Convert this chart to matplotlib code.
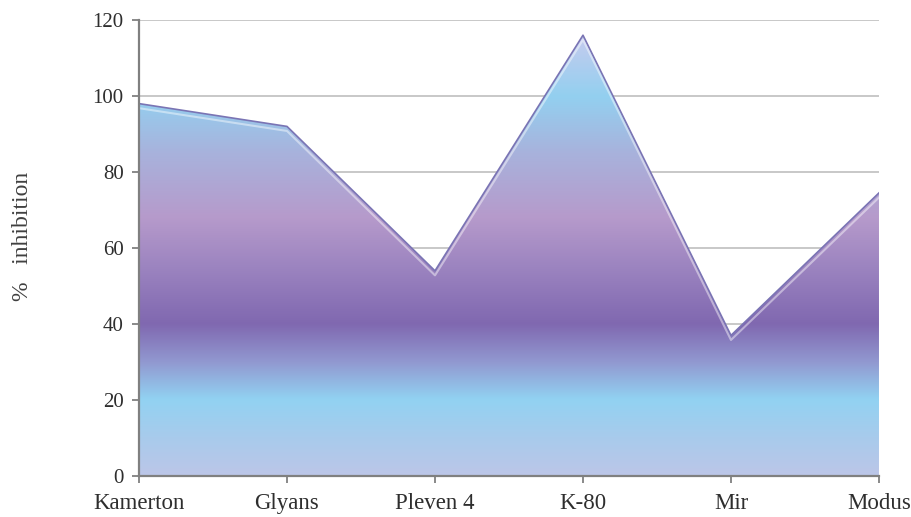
import numpy as np
import matplotlib.pyplot as plt
from matplotlib.colors import LinearSegmentedColormap

# varieties and % inhibition
varieties = ['Kamerton', 'Glyans', 'Pleven 4', 'K-80', 'Mir', 'Modus']
inhibition = [98, 92, 54, 116, 37, 74.5]
y_ticks = [0, 20, 40, 60, 80, 100, 120]

plt.rcParams['font.family'] = ['Liberation Serif', 'DejaVu Serif']

fig = plt.figure(figsize=(9.12, 5.17), dpi=100)
ax = fig.add_axes([0.1524, 0.0793, 0.8114, 0.882])

x = np.arange(len(varieties))
ax.set_xlim(0, len(varieties) - 1)
ax.set_ylim(0, 120)

# gridlines behind the area
ax.set_yticks(y_ticks)
ax.yaxis.grid(True, color='#c4c4c4', linewidth=1.3)
ax.set_axisbelow(True)

# vertical gradient, stops given in data units (0..116)
stops = [
    (0, '#bcc6e8'),
    (10, '#a8cbec'),
    (20, '#92d2f2'),
    (30, '#9198d0'),
    (40, '#8068b0'),
    (55, '#9c84c0'),
    (68, '#b69acb'),
    (85, '#a8b2dc'),
    (100, '#93d0f0'),
    (116, '#c6cbee'),
]
top = stops[-1][0]
cmap = LinearSegmentedColormap.from_list('band', [(v / top, c) for v, c in stops])

poly = ax.fill_between(x, 0, inhibition, facecolor='none', edgecolor='none')
grad = np.linspace(0, 1, 512).reshape(-1, 1)
img = ax.imshow(grad, cmap=cmap, origin='lower', aspect='auto',
                extent=[0, len(varieties) - 1, 0, top], zorder=2, interpolation='bicubic')
img.set_clip_path(poly.get_paths()[0], transform=ax.transData)

# thin bevel edge along the top
ax.plot(x, inhibition, color='#7a74b4', linewidth=1.2, zorder=3)
ax.plot(x, np.array(inhibition) - 1.2, color='white', linewidth=1.5, alpha=0.45, zorder=3)

ax.set_xticks(x)
ax.set_xticklabels(varieties, fontsize=16.5)
ax.set_ylabel('%   inhibition', fontsize=17, color='#404040')
ax.yaxis.set_label_coords(-0.143, 0.525)

for side in ['top', 'right']:
    ax.spines[side].set_visible(False)
for side in ['left', 'bottom']:
    ax.spines[side].set_color('#808080')
    ax.spines[side].set_linewidth(1.6)
    ax.spines[side].set_zorder(4)

ax.tick_params(axis='both', colors='#808080', labelcolor='#2e2e2e',
               length=5, width=1.3, direction='out')
ax.tick_params(axis='y', labelsize=15, pad=6)
ax.tick_params(axis='x', pad=7)

fig.savefig('out.png', dpi=100)
